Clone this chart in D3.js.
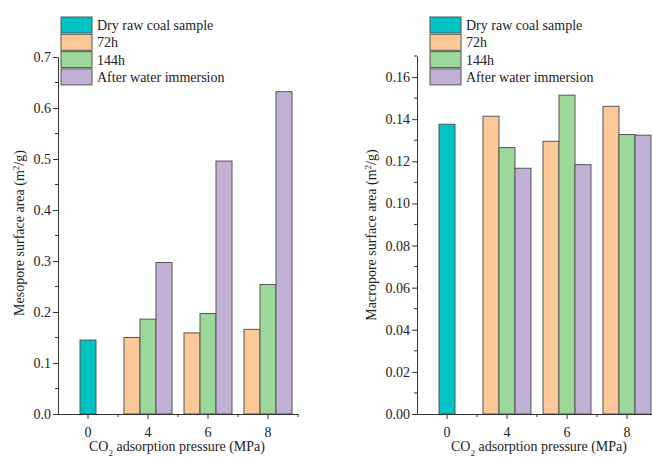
<!DOCTYPE html>
<html><head><meta charset="utf-8">
<script src="https://cdn.jsdelivr.net/npm/d3@7"></script>
<style>body{margin:0;background:#fff;} svg{display:block;font-family:"Liberation Serif","Times New Roman",serif;}</style>
</head><body>
<svg id="c" width="652" height="457"></svg>
<script>
const categories = ["0","4","6","8"];
const seriesNames = ["Dry raw coal sample","72h","144h","After water immersion"];
const seriesColors = ["#00c4c4","#fdc897","#9dd89b","#c2b1d6"];
// Mesopore (left)
const mesoDry = [0.145];
const meso72 = [0.150,0.159,0.166];
const meso144 = [0.186,0.197,0.254];
const mesoWater = [0.297,0.496,0.632];
const mesoTicks = [0,0.1,0.2,0.3,0.4,0.5,0.6,0.7];
// Macropore (right)
const macroDry = [0.1376];
const macro72 = [0.1414,0.1295,0.1461];
const macro144 = [0.1265,0.1514,0.1327];
const macroWater = [0.1167,0.1184,0.1324];
const macroTicks = [0,0.02,0.04,0.06,0.08,0.10,0.12,0.14,0.16];

const svg = d3.select("#c");
const axisColor = "#333";

function panel(opt){
  const g = svg.append("g");
  const x = d3.scaleBand().domain(categories).range([opt.left, opt.left+240]).padding(0);
  const y = d3.scaleLinear().domain([0, opt.ymax]).range([opt.bottom, opt.top]);
  const inner = d3.scaleBand().domain(["72h","144h","After"]).range([-24,24]).padding(0);
  const bw = 16;
  const bars = [];
  bars.push({cat:"0", off:-bw/2, v:opt.dry[0], c:seriesColors[0]});
  ["4","6","8"].forEach((cat,i)=>{
    bars.push({cat, off:inner("72h"), v:opt.s72[i], c:seriesColors[1]});
    bars.push({cat, off:inner("144h"), v:opt.s144[i], c:seriesColors[2]});
    bars.push({cat, off:inner("After"), v:opt.sw[i], c:seriesColors[3]});
  });
  g.selectAll("rect.bar").data(bars).join("rect").attr("class","bar")
    .attr("x", d=>x(d.cat)+x.bandwidth()/2+d.off)
    .attr("width", bw)
    .attr("y", d=>y(d.v))
    .attr("height", d=>y(0)-y(d.v))
    .attr("fill", d=>d.c).attr("stroke","#555").attr("stroke-width",1);

  // y axis
  const ya = g.append("g").attr("transform",`translate(${opt.left},0)`)
    .call(d3.axisLeft(y).tickValues(opt.ticks).tickFormat(opt.fmt).tickSize(5).tickSizeOuter(0));
  // minor y ticks
  const minor = [];
  for(let i=0;i<opt.ticks.length-1;i++) minor.push((opt.ticks[i]+opt.ticks[i+1])/2);
  if (opt.ticks[opt.ticks.length-1] < opt.ymax) minor.push(opt.ticks[opt.ticks.length-1]+(opt.ticks[1]-opt.ticks[0])/2);
  ya.selectAll("line.minor").data(minor.filter(m=>m<=opt.ymax)).join("line").attr("class","minor")
    .attr("x1",-3).attr("x2",0).attr("y1",d=>y(d)).attr("y2",d=>y(d)).attr("stroke",axisColor);
  // x axis
  const xa = g.append("g").attr("transform",`translate(0,${opt.bottom})`)
    .call(d3.axisBottom(x).tickSize(5).tickSizeOuter(0));
  xa.selectAll("line.minor").data(d3.range(1,5)).join("line").attr("class","minor")
    .attr("x1",d=>opt.left+d*x.bandwidth()).attr("x2",d=>opt.left+d*x.bandwidth())
    .attr("y1",0).attr("y2",3).attr("stroke",axisColor);
  [ya,xa].forEach(a=>{
    a.select(".domain").attr("stroke",axisColor);
    a.selectAll(".tick line").attr("stroke",axisColor);
    a.selectAll("text").attr("font-size",14).attr("fill","#222").attr("font-family","Liberation Serif");
  });
  ya.selectAll(".tick text").attr("x",-7);
  xa.selectAll(".tick text").attr("dy","1.05em");

  // y label
  const yl = g.append("text").attr("transform",`translate(${opt.ylabX},${opt.ylabY}) rotate(-90)`)
    .attr("text-anchor","middle").attr("font-size",14).attr("fill","#222");
  yl.append("tspan").text(opt.ylabel+" (m");
  yl.append("tspan").attr("baseline-shift","super").attr("font-size",9).text("2");
  yl.append("tspan").text("/g)");
  // x label
  const xl = g.append("text").attr("x",opt.xlabX).attr("y",opt.xlabY)
    .attr("text-anchor","middle").attr("font-size",14).attr("fill","#222");
  xl.append("tspan").text("CO");
  xl.append("tspan").attr("baseline-shift","sub").attr("font-size",9).text("2");
  xl.append("tspan").text(" adsorption pressure (MPa)");

  // legend
  const lg = g.append("g").attr("transform",`translate(${opt.legX},17)`);
  seriesNames.forEach((n,i)=>{
    lg.append("rect").attr("x",0).attr("y",i*17.3).attr("width",31).attr("height",16)
      .attr("fill",seriesColors[i]).attr("stroke","#555");
    lg.append("text").attr("x",36).attr("y",i*17.3+13).attr("font-size",14).attr("fill","#222").text(n);
  });
}

panel({left:58, top:57, bottom:414, ymax:0.7, ticks:mesoTicks, fmt:d3.format(".1f"),
  dry:mesoDry, s72:meso72, s144:meso144, sw:mesoWater,
  ylabel:"Mesopore surface area", ylabX:24, ylabY:233, xlabX:177, xlabY:451, legX:61});
panel({left:417, top:56, bottom:414, ymax:0.17, ticks:macroTicks, fmt:d3.format(".2f"),
  dry:macroDry, s72:macro72, s144:macro144, sw:macroWater,
  ylabel:"Macropore surface area", ylabX:376, ylabY:235, xlabX:539, xlabY:451, legX:430});
</script>
</body></html>
